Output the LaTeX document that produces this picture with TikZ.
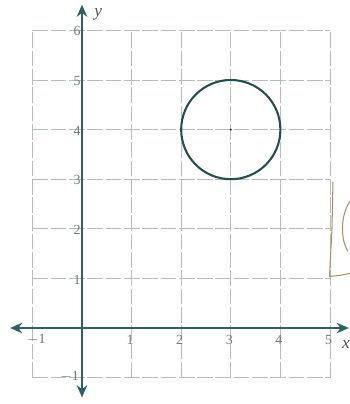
\documentclass[tikz,border=0pt]{standalone}
\usepackage{fontspec}
\setmainfont{Liberation Serif}
\usetikzlibrary{arrows.meta}
\definecolor{axiscol}{HTML}{2E6262}
\definecolor{circcol}{HTML}{244F4F}
\definecolor{gridcol}{HTML}{B4BCBC}
\definecolor{labcol}{HTML}{707878}
\definecolor{inkcol}{HTML}{A89060}
\tikzset{
  gridline/.style={gridcol, line width=0.5pt, dash pattern=on 9pt off 1.5pt},
  axisline/.style={axiscol, line width=1.3pt, -{Stealth[length=7pt,width=6pt]}},
  ticklab/.style={labcol, font=\fontsize{8}{9}\selectfont, inner sep=0.5pt},
  axlab/.style={labcol!70!black, font=\fontsize{10}{11}\selectfont\itshape, inner sep=0.5pt},
  ink/.style={inkcol, line width=0.6pt, line cap=round, line join=round}
}
\begin{document}
\begin{tikzpicture}[x=1cm,y=1cm]
\useasboundingbox (-1.653,-1.532) rectangle (5.403,6.613);
% grid
\foreach \i in {-1,...,5} \draw[gridline] (\i,-1) -- (\i,6);
\foreach \j in {-1,...,6} \draw[gridline] (-1,\j) -- (5,\j);
% tick labels
\node[ticklab] (xm1) at (-0.92,-0.24) {$-$1};
\foreach \i in {1,...,5} \node[ticklab] (x\i) at (\i-0.03,-0.24) {\i};
\foreach \j in {1,...,6} \node[ticklab] (y\j) at (-0.10,\j-0.02) {\j};
\node[ticklab, anchor=east] (ym1) at (-0.04,-0.98) {$-$1};
% axes
\coordinate (xl) at (-1.45,0);
\coordinate (xr) at (5.38,0);
\coordinate (yb) at (0,-1.40);
\coordinate (yt) at (0,6.52);
\coordinate (o) at (0,0);
\draw[axisline] (o) -- (xl);
\draw[axisline] (o) -- (xr);
\draw[axisline] (o) -- (yb);
\draw[axisline] (o) -- (yt);
\node[axlab] (xlab) at (5.32,-0.34) {x};
\node[axlab] (ylab) at (0.33,6.33) {y};
% circle
\node[circle, draw=circcol, line width=1.2pt, minimum size=2cm, inner sep=0pt] (c) at (3,4) {};
\fill[circcol] (3,4) circle (0.025);
% handwritten mark
\draw[ink] (5.06,2.94) -- (5.04,2.0) -- (4.99,1.04) -- (5.2,1.06) -- (5.40,1.10);
\draw[ink] (5.40,2.55) .. controls (5.22,2.30) and (5.20,1.80) .. (5.36,1.55);
\end{tikzpicture}
\end{document}
